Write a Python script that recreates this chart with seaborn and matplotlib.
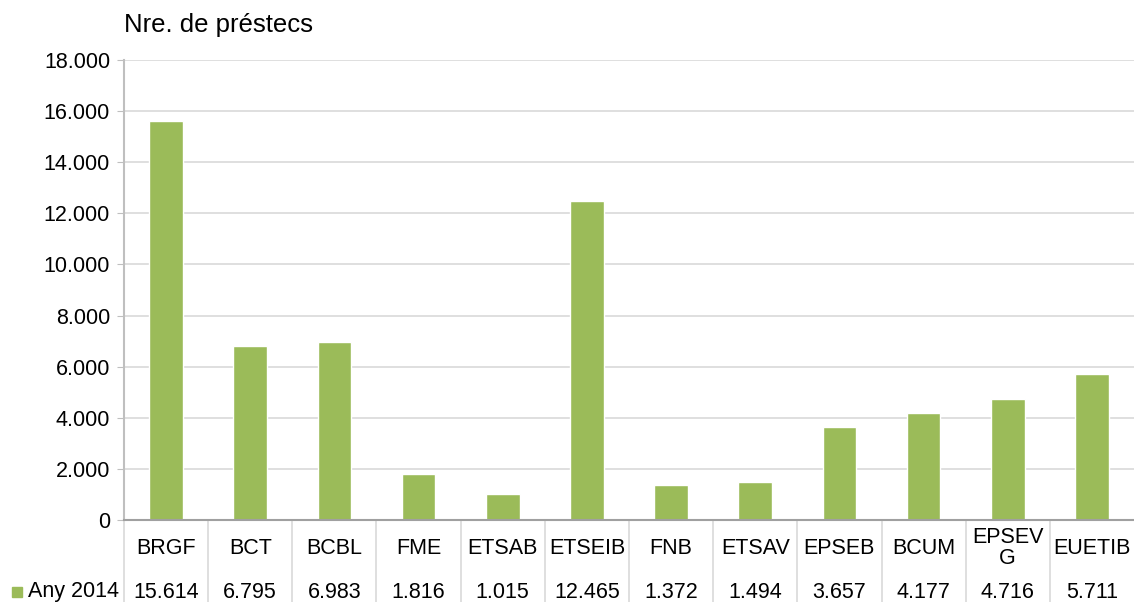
import numpy as np
import pandas as pd
import seaborn as sns
import matplotlib
matplotlib.use("Agg")
import matplotlib.pyplot as plt
from matplotlib.patches import Rectangle
from matplotlib.ticker import FuncFormatter

# dades del grafic
biblioteques = ["BRGF", "BCT", "BCBL", "FME", "ETSAB", "ETSEIB", "FNB",
                "ETSAV", "EPSEB", "BCUM", "EPSEV\nG", "EUETIB"]
prestecs_2014 = [15614, 6795, 6983, 1816, 1015, 12465, 1372,
                 1494, 3657, 4177, 4716, 5711]
serie = "Any 2014"
titol = "Nre. de préstecs"
y_ticks = [0, 2000, 4000, 6000, 8000, 10000, 12000, 14000, 16000, 18000]

df = pd.DataFrame({"biblioteca": biblioteques, "prestecs": prestecs_2014})

sns.set_style("white")
plt.rcParams["font.family"] = ["Liberation Sans", "DejaVu Sans"]
plt.rcParams["text.color"] = "black"
plt.rcParams["ytick.labelcolor"] = "black"

verd = "#9BBB59"
gris = "#d9d9d9"

fig = plt.figure(figsize=(11.34, 6.02), dpi=100)
ax = fig.add_axes([124 / 1134, 82 / 602, 1010 / 1134, 460 / 602])

sns.barplot(data=df, x="biblioteca", y="prestecs", order=biblioteques,
            color=verd, width=0.4, saturation=1, ax=ax)

ax.set_xlim(-0.5, len(biblioteques) - 0.5)
ax.set_ylim(0, 18000)
ax.set_yticks(y_ticks)
ax.yaxis.set_major_formatter(FuncFormatter(lambda v, p: f"{int(v):,}".replace(",", ".")))
ax.yaxis.grid(True, color=gris, linewidth=1.2)
ax.set_axisbelow(True)
ax.tick_params(axis="y", labelsize=15.5, length=5, color="#bfbfbf",
               labelcolor="black", left=True, pad=5)
ax.tick_params(axis="x", bottom=False, labelbottom=False)
ax.set_xlabel("")
ax.set_ylabel("")
for s in ["top", "right"]:
    ax.spines[s].set_visible(False)
ax.spines["left"].set_color("#bfbfbf")
ax.spines["left"].set_linewidth(1.5)
ax.spines["bottom"].set_color("#a0a0a0")
ax.spines["bottom"].set_linewidth(1.5)

# taula de dades sota l'eix
trans = ax.get_xaxis_transform()
for i, (nom, val) in enumerate(zip(biblioteques, prestecs_2014)):
    ax.text(i, -0.061, nom, transform=trans, ha="center", va="center",
            fontsize=15.5, linespacing=1.0, color="black")
    ax.text(i, -0.157, f"{val:,}".replace(",", "."), transform=trans,
            ha="center", va="center", fontsize=15.5, color="black")
for i in range(len(biblioteques)):
    ax.plot([i - 0.5, i - 0.5], [0, -0.2], transform=trans, color=gris,
            linewidth=1.2, clip_on=False)

fig.text(28 / 1134, 1 - 592 / 602, serie, ha="left", va="center",
         fontsize=15.5, color="black")
fig.patches.append(Rectangle((12 / 1134, 1 - 597 / 602), 10 / 1134, 10 / 602,
                             transform=fig.transFigure, color=verd))

fig.text(124 / 1134, 1 - 25 / 602, titol, ha="left", va="center",
         fontsize=18.5, color="black")

plt.savefig("out.png", dpi=100)
